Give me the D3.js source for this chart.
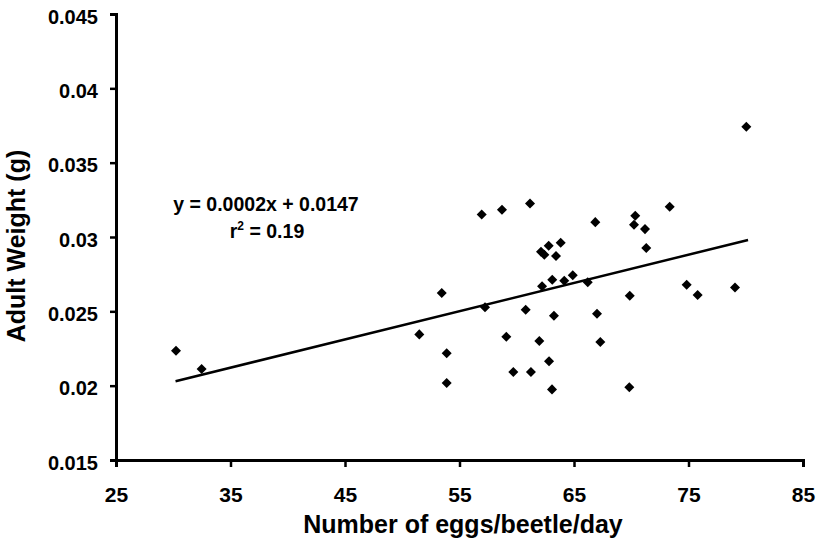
<!DOCTYPE html>
<html><head><meta charset="utf-8">
<script src="https://cdn.jsdelivr.net/npm/d3@7"></script>
<style>body{margin:0;background:#fff;}text{font-family:"Liberation Sans",Arial,sans-serif;font-weight:bold;fill:#000;}</style>
</head><body>
<svg id="c" width="822" height="549"></svg>
<script>
const eggs = [30.24,32.48,51.49,53.45,53.88,53.88,56.94,57.23,58.71,59.09,59.7,60.78,61.16,61.24,61.97,62.12,62.41,62.21,62.79,62.82,63.08,63.1,63.25,63.43,63.84,64.15,64.89,66.2,66.86,67.01,67.3,69.83,69.87,70.24,70.35,71.2,71.31,73.36,74.84,75.8,79.06,80.05];
const weight = [0.02235,0.02112,0.02345,0.02623,0.02218,0.02018,0.03152,0.02527,0.03183,0.02329,0.02092,0.02511,0.03226,0.02092,0.0230,0.02901,0.02881,0.02668,0.02941,0.02164,0.01975,0.02713,0.0247,0.02872,0.02961,0.02706,0.02742,0.02695,0.0310,0.02484,0.02294,0.01989,0.02605,0.03082,0.03143,0.03053,0.02926,0.03203,0.02679,0.0261,0.02661,0.03741];
const xTicks = [25,35,45,55,65,75,85];
const yTicks = [0.015,0.02,0.025,0.03,0.035,0.04,0.045];
const fitX = [30.2, 80.2];
const fitSlope = 0.00019, fitIntercept = 0.01456;
const eqLine = "y = 0.0002x + 0.0147";
const r2Text = ["r", "2", " = 0.19"];

const svg = d3.select("#c");
const x = d3.scaleLinear().domain([25,85]).range([116,803]);
const y = d3.scaleLinear().domain([0.015,0.045]).range([460,14]);

const yAxis = svg.append("g").attr("transform","translate(116,0)")
  .call(d3.axisLeft(y).tickValues(yTicks).tickFormat(d=>String(+d.toFixed(3))).tickSizeOuter(0).tickSize(6).tickPadding(12));
const xAxis = svg.append("g").attr("transform","translate(0,460)")
  .call(d3.axisBottom(x).tickValues(xTicks).tickSizeOuter(0).tickSize(7).tickPadding(20));
[xAxis,yAxis].forEach(g=>{
  g.select(".domain").attr("stroke","#000").attr("stroke-width",3);
  g.selectAll(".tick line").attr("stroke","#000").attr("stroke-width",2.5);
  g.selectAll(".tick text").style("font-family","'Liberation Sans',Arial,sans-serif").style("font-weight","bold");
});
yAxis.selectAll(".tick text").attr("font-size",20).attr("dy","0.45em");
xAxis.selectAll(".tick text").attr("font-size",21);

svg.append("line")
  .attr("x1",x(fitX[0])).attr("y1",y(fitIntercept+fitSlope*fitX[0]))
  .attr("x2",x(fitX[1])).attr("y2",y(fitIntercept+fitSlope*fitX[1]))
  .attr("stroke","#000").attr("stroke-width",2.5);

const sym = d3.symbol().type(d3.symbolDiamond2).size(64);
svg.append("g").selectAll("path").data(eggs.map((e,i)=>[e,weight[i]])).join("path")
  .attr("d",sym).attr("transform",d=>`translate(${x(d[0])},${y(d[1])})`).attr("fill","#000");

svg.append("text").attr("x",266).attr("y",211).attr("text-anchor","middle").attr("font-size",19.5).text(eqLine);
const r2 = svg.append("text").attr("x",267).attr("y",238).attr("text-anchor","middle").attr("font-size",19.5);
r2.append("tspan").text(r2Text[0]);
r2.append("tspan").attr("font-size",12).attr("dy",-8).text(r2Text[1]);
r2.append("tspan").attr("dy",8).text(r2Text[2]);

svg.append("text").attr("x",463).attr("y",533).attr("text-anchor","middle").attr("font-size",25).text("Number of eggs/beetle/day");
svg.append("text").attr("transform","translate(25,246) rotate(-90)").attr("text-anchor","middle").attr("font-size",25).text("Adult Weight (g)");
</script>
</body></html>
